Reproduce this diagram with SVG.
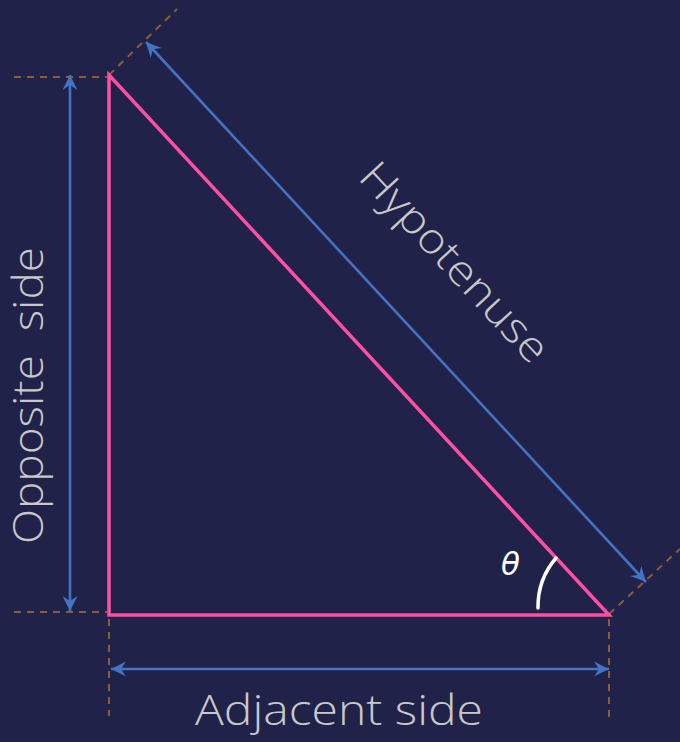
<svg xmlns="http://www.w3.org/2000/svg" width="680" height="742" viewBox="0 0 680 742">
<defs>
<style>
.dash{stroke:#8C5E35;stroke-width:2;stroke-dasharray:7 6;fill:none}
.dim{stroke:#4472C4;stroke-width:2.6;fill:none;marker-start:url(#ah);marker-end:url(#ah)}
.lbl{font-family:"Open Sans","Liberation Sans",sans-serif;font-weight:300;font-size:42px;fill:#C8C8C8}
</style>
<marker id="ah" viewBox="-15 -8 16 16" refX="0" refY="0" markerWidth="16" markerHeight="16" markerUnits="userSpaceOnUse" orient="auto-start-reverse">
<path d="M0,0 L-15,-7.5 L-10,0 L-15,7.5 Z" fill="#4472C4"/>
</marker>
</defs>
<rect width="680" height="742" fill="#21224A"/>
<g id="guides">
<line class="dash" x1="14" y1="77" x2="107" y2="77"/>
<line class="dash" x1="14" y1="612" x2="107" y2="612"/>
<line class="dash" x1="109" y1="75" x2="177" y2="9"/>
<line class="dash" x1="609" y1="614" x2="680" y2="549"/>
<line class="dash" x1="109" y1="619" x2="109" y2="716"/>
<line class="dash" x1="609" y1="619" x2="609" y2="718"/>
</g>
<g id="triangle">
<path d="M109,75 L109,615 L609,615 Z" fill="none" stroke="#FF4FA3" stroke-width="3.5" stroke-linejoin="miter"/>
</g>
<g id="connectors">
<line class="dim" x1="70" y1="75" x2="70" y2="611"/>
<line class="dim" x1="111" y1="669" x2="609" y2="669"/>
<line class="dim" x1="146" y1="42" x2="646" y2="582"/>
</g>
<g id="angle">
<path d="M538,608 A75,75 0 0 1 556,558" fill="none" stroke="#FFFFFF" stroke-width="3.5" stroke-linecap="round"/>
<text x="501" y="575" font-family="DejaVu Sans,sans-serif" font-style="italic" font-size="31" fill="#FFFFFF">θ</text>
</g>
<g id="labels">
<text class="lbl" x="339" y="725" text-anchor="middle" textLength="288" lengthAdjust="spacingAndGlyphs">Adjacent side</text>
<text class="lbl" transform="translate(43,395.5) rotate(-90)" text-anchor="middle" xml:space="preserve" textLength="297" lengthAdjust="spacingAndGlyphs">Opposite  side</text>
<text class="lbl" transform="translate(444,272) rotate(47.15)" text-anchor="middle" textLength="256" lengthAdjust="spacingAndGlyphs">Hypotenuse</text>
</g>
</svg>
